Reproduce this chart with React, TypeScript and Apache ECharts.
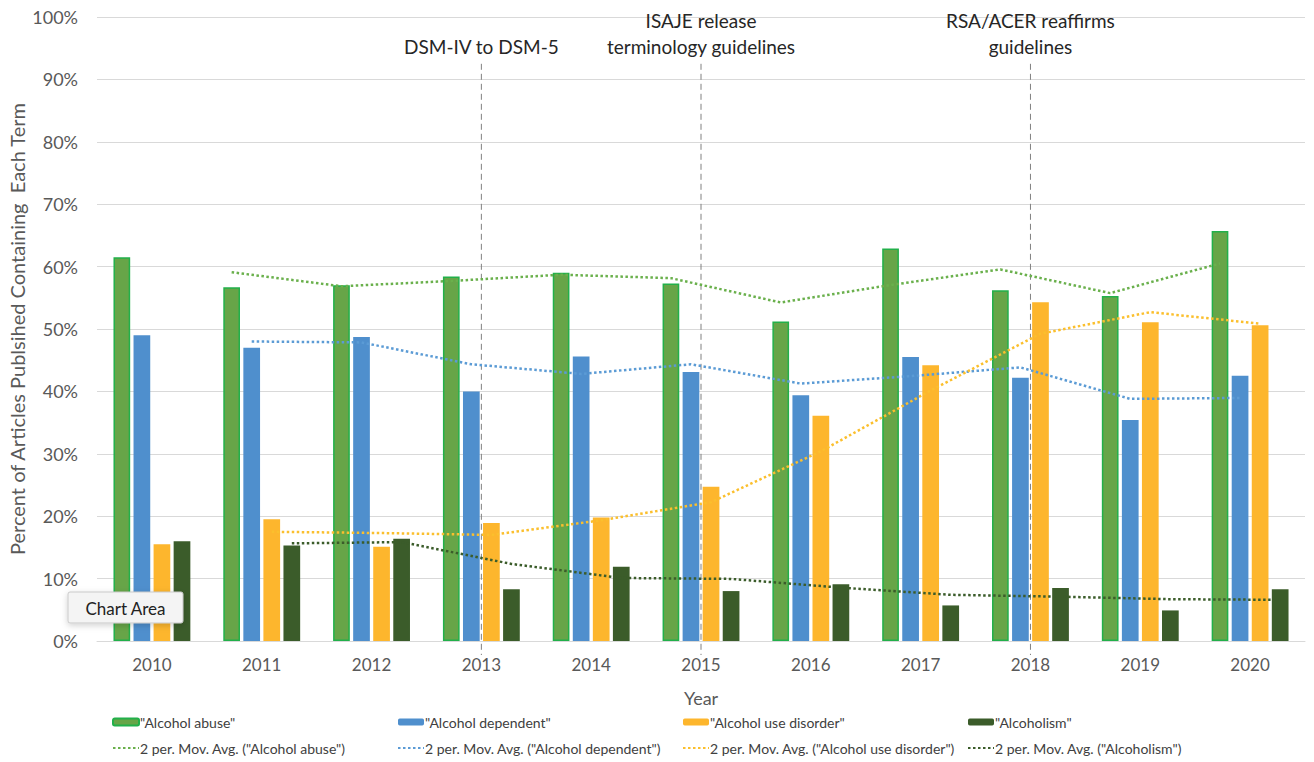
import React, { useEffect, useRef } from "react";
import * as echarts from "echarts";

const years = ["2010", "2011", "2012", "2013", "2014", "2015", "2016", "2017", "2018", "2019", "2020"];
const abuse = [61.5, 56.7, 57.0, 58.4, 59.0, 57.3, 51.2, 62.9, 56.2, 55.3, 65.7];
const dependent = [49.0, 47.0, 48.7, 40.0, 45.6, 43.1, 39.4, 45.5, 42.2, 35.4, 42.5];
const useDisorder = [15.5, 19.5, 15.1, 18.9, 19.8, 24.7, 36.1, 44.2, 54.3, 51.1, 50.6];
const alcoholism = [16.0, 15.3, 16.4, 8.3, 11.9, 8.0, 9.1, 5.7, 8.5, 4.9, 8.3];

const barNames = ['"Alcohol abuse"', '"Alcohol dependent"', '"Alcohol use disorder"', '"Alcoholism"'];
const maNames = barNames.map((n) => `2 per. Mov. Avg. (${n})`);

const eventYears = ["2013", "2015", "2018"];
const eventTexts = ["DSM-IV to DSM-5", "ISAJE release\nterminology guidelines", "RSA/ACER reaffirms\nguidelines"];
const eventTop = 92.5;

const FONT = "Lato";
const barColors = ["#67a548", "#4f8fcd", "#fdb62d", "#3b5c2a"];
const maColors = ["#6ab04c", "#5b9bd5", "#fbbf2d", "#3b5c2a"];

const CAT_GAP = 0.3;
const BAR_GAP = 0.2;

function barOffset(k: number, n: number) {
  const groupW = 1 - CAT_GAP;
  const w = groupW / (n + (n - 1) * BAR_GAP);
  return -groupW / 2 + w / 2 + k * w * (1 + BAR_GAP);
}

function movingAvg(vals: number[], k: number, n: number) {
  const out: number[][] = [];
  for (let i = 1; i < vals.length; i++) {
    out.push([i + barOffset(k, n), (vals[i - 1] + vals[i]) / 2]);
  }
  return out;
}

export default function App() {
  const ref = useRef<HTMLDivElement>(null);
  useEffect(() => {
    if (!ref.current) return;
    const chart = echarts.init(ref.current, undefined, { renderer: "svg" });
    const all = [abuse, dependent, useDisorder, alcoholism];
    const n = all.length;

    const barSeries: any[] = all.map((vals, k) => ({
      name: barNames[k],
      type: "bar",
      xAxisIndex: 0,
      yAxisIndex: 0,
      data: vals,
      barCategoryGap: "30%",
      barGap: "20%",
      itemStyle: {
        color: barColors[k],
        borderColor: k === 0 ? "#22b04a" : barColors[k],
        borderWidth: k === 0 ? 1.5 : 0,
      },
      z: 2,
    }));

    const lineSeries = all.map((vals, k) => ({
      name: maNames[k],
      type: "line",
      xAxisIndex: 1,
      yAxisIndex: 0,
      data: movingAvg(vals, k, n),
      symbol: "none",
      lineStyle: { color: maColors[k], width: 2.5, type: [2.5, 2.5], cap: "butt" },
      itemStyle: { color: maColors[k] },
      z: 5,
    }));

    const eventSeries = {
      type: "custom",
      xAxisIndex: 0,
      yAxisIndex: 0,
      clip: false,
      silent: true,
      z: 4,
      data: eventYears.map((y) => [years.indexOf(y), eventTop]),
      renderItem: (params: any, api: any) => {
        const top = api.coord([api.value(0), api.value(1)]);
        const bottom = api.coord([api.value(0), 0]);
        return {
          type: "group",
          children: [
            {
              type: "line",
              shape: { x1: top[0], y1: top[1], x2: top[0], y2: bottom[1] + 14 },
              style: { stroke: "#808080", lineWidth: 1, lineDash: [6, 4] },
            },
            {
              type: "text",
              x: top[0],
              y: top[1] - 4,
              style: {
                text: eventTexts[params.dataIndex],
                align: "center",
                verticalAlign: "bottom",
                fontSize: 19,
                lineHeight: 26,
                fill: "#262626",
                fontFamily: FONT,
              },
            },
          ],
        };
      },
    };

    const legends = [0, 1, 2, 3].map((k) => ({
      orient: "vertical",
      left: 112 + 285 * k,
      top: 714,
      padding: 0,
      itemWidth: 26,
      itemHeight: 7,
      itemGap: 10,
      selectedMode: false,
      data: [{ name: barNames[k] }, { name: maNames[k], itemStyle: { opacity: 0 } }],
      textStyle: { fontFamily: FONT, fontSize: 14, color: "#404040", lineHeight: 16, padding: [0, 0, 0, -4] },
    }));

    chart.setOption({
      animation: false,
      backgroundColor: "#ffffff",
      textStyle: { fontFamily: FONT },
      grid: { left: 97, right: 9, top: 17, bottom: 121, containLabel: false, outerBoundsMode: "none" },
      legend: legends,
      xAxis: [
        {
          type: "category",
          data: years,
          boundaryGap: true,
          axisLine: { lineStyle: { color: "#d9d9d9" } },
          axisTick: { show: false },
          axisLabel: { color: "#595959", fontSize: 17, fontFamily: FONT, margin: 15 },
          name: "Year",
          nameLocation: "middle",
          nameGap: 48,
          nameMoveOverlap: false,
          nameTextStyle: { color: "#595959", fontSize: 18, fontFamily: FONT },
        },
        { type: "value", min: -0.5, max: 10.5, show: false },
      ],
      yAxis: {
        type: "value",
        min: 0,
        max: 100,
        interval: 10,
        axisLine: { show: false },
        axisTick: { show: false },
        splitLine: { lineStyle: { color: "#d9d9d9", width: 1 } },
        axisLabel: { formatter: "{value}%", color: "#595959", fontSize: 18, fontFamily: FONT, margin: 19 },
        name: "Percent of Articles Publsihed Containing  Each Term",
        nameLocation: "middle",
        nameGap: 70,
        nameMoveOverlap: false,
        nameTextStyle: { color: "#595959", fontSize: 20, fontFamily: FONT },
      },
      series: [...barSeries, ...lineSeries, eventSeries],
      graphic: [
        {
          type: "rect",
          z: 100,
          zlevel: 1,
          shape: { x: 68, y: 592, width: 115, height: 31, r: 2 },
          style: {
            fill: "#f4f4f4",
            stroke: "#c9c9c9",
            lineWidth: 1,
            shadowBlur: 6,
            shadowColor: "rgba(0,0,0,0.18)",
            shadowOffsetY: 2,
          },
        },
        {
          type: "text",
          z: 101,
          zlevel: 1,
          x: 125.5,
          y: 608,
          style: {
            text: "Chart Area",
            fontSize: 17,
            fontFamily: FONT,
            fill: "#222222",
            align: "center",
            verticalAlign: "middle",
          },
        },
      ],
    });
    return () => chart.dispose();
  }, []);
  return (
    <div
      ref={ref}
      style={{ position: "fixed", left: 0, top: 0, width: 1314, height: 762 }}
    />
  );
}
